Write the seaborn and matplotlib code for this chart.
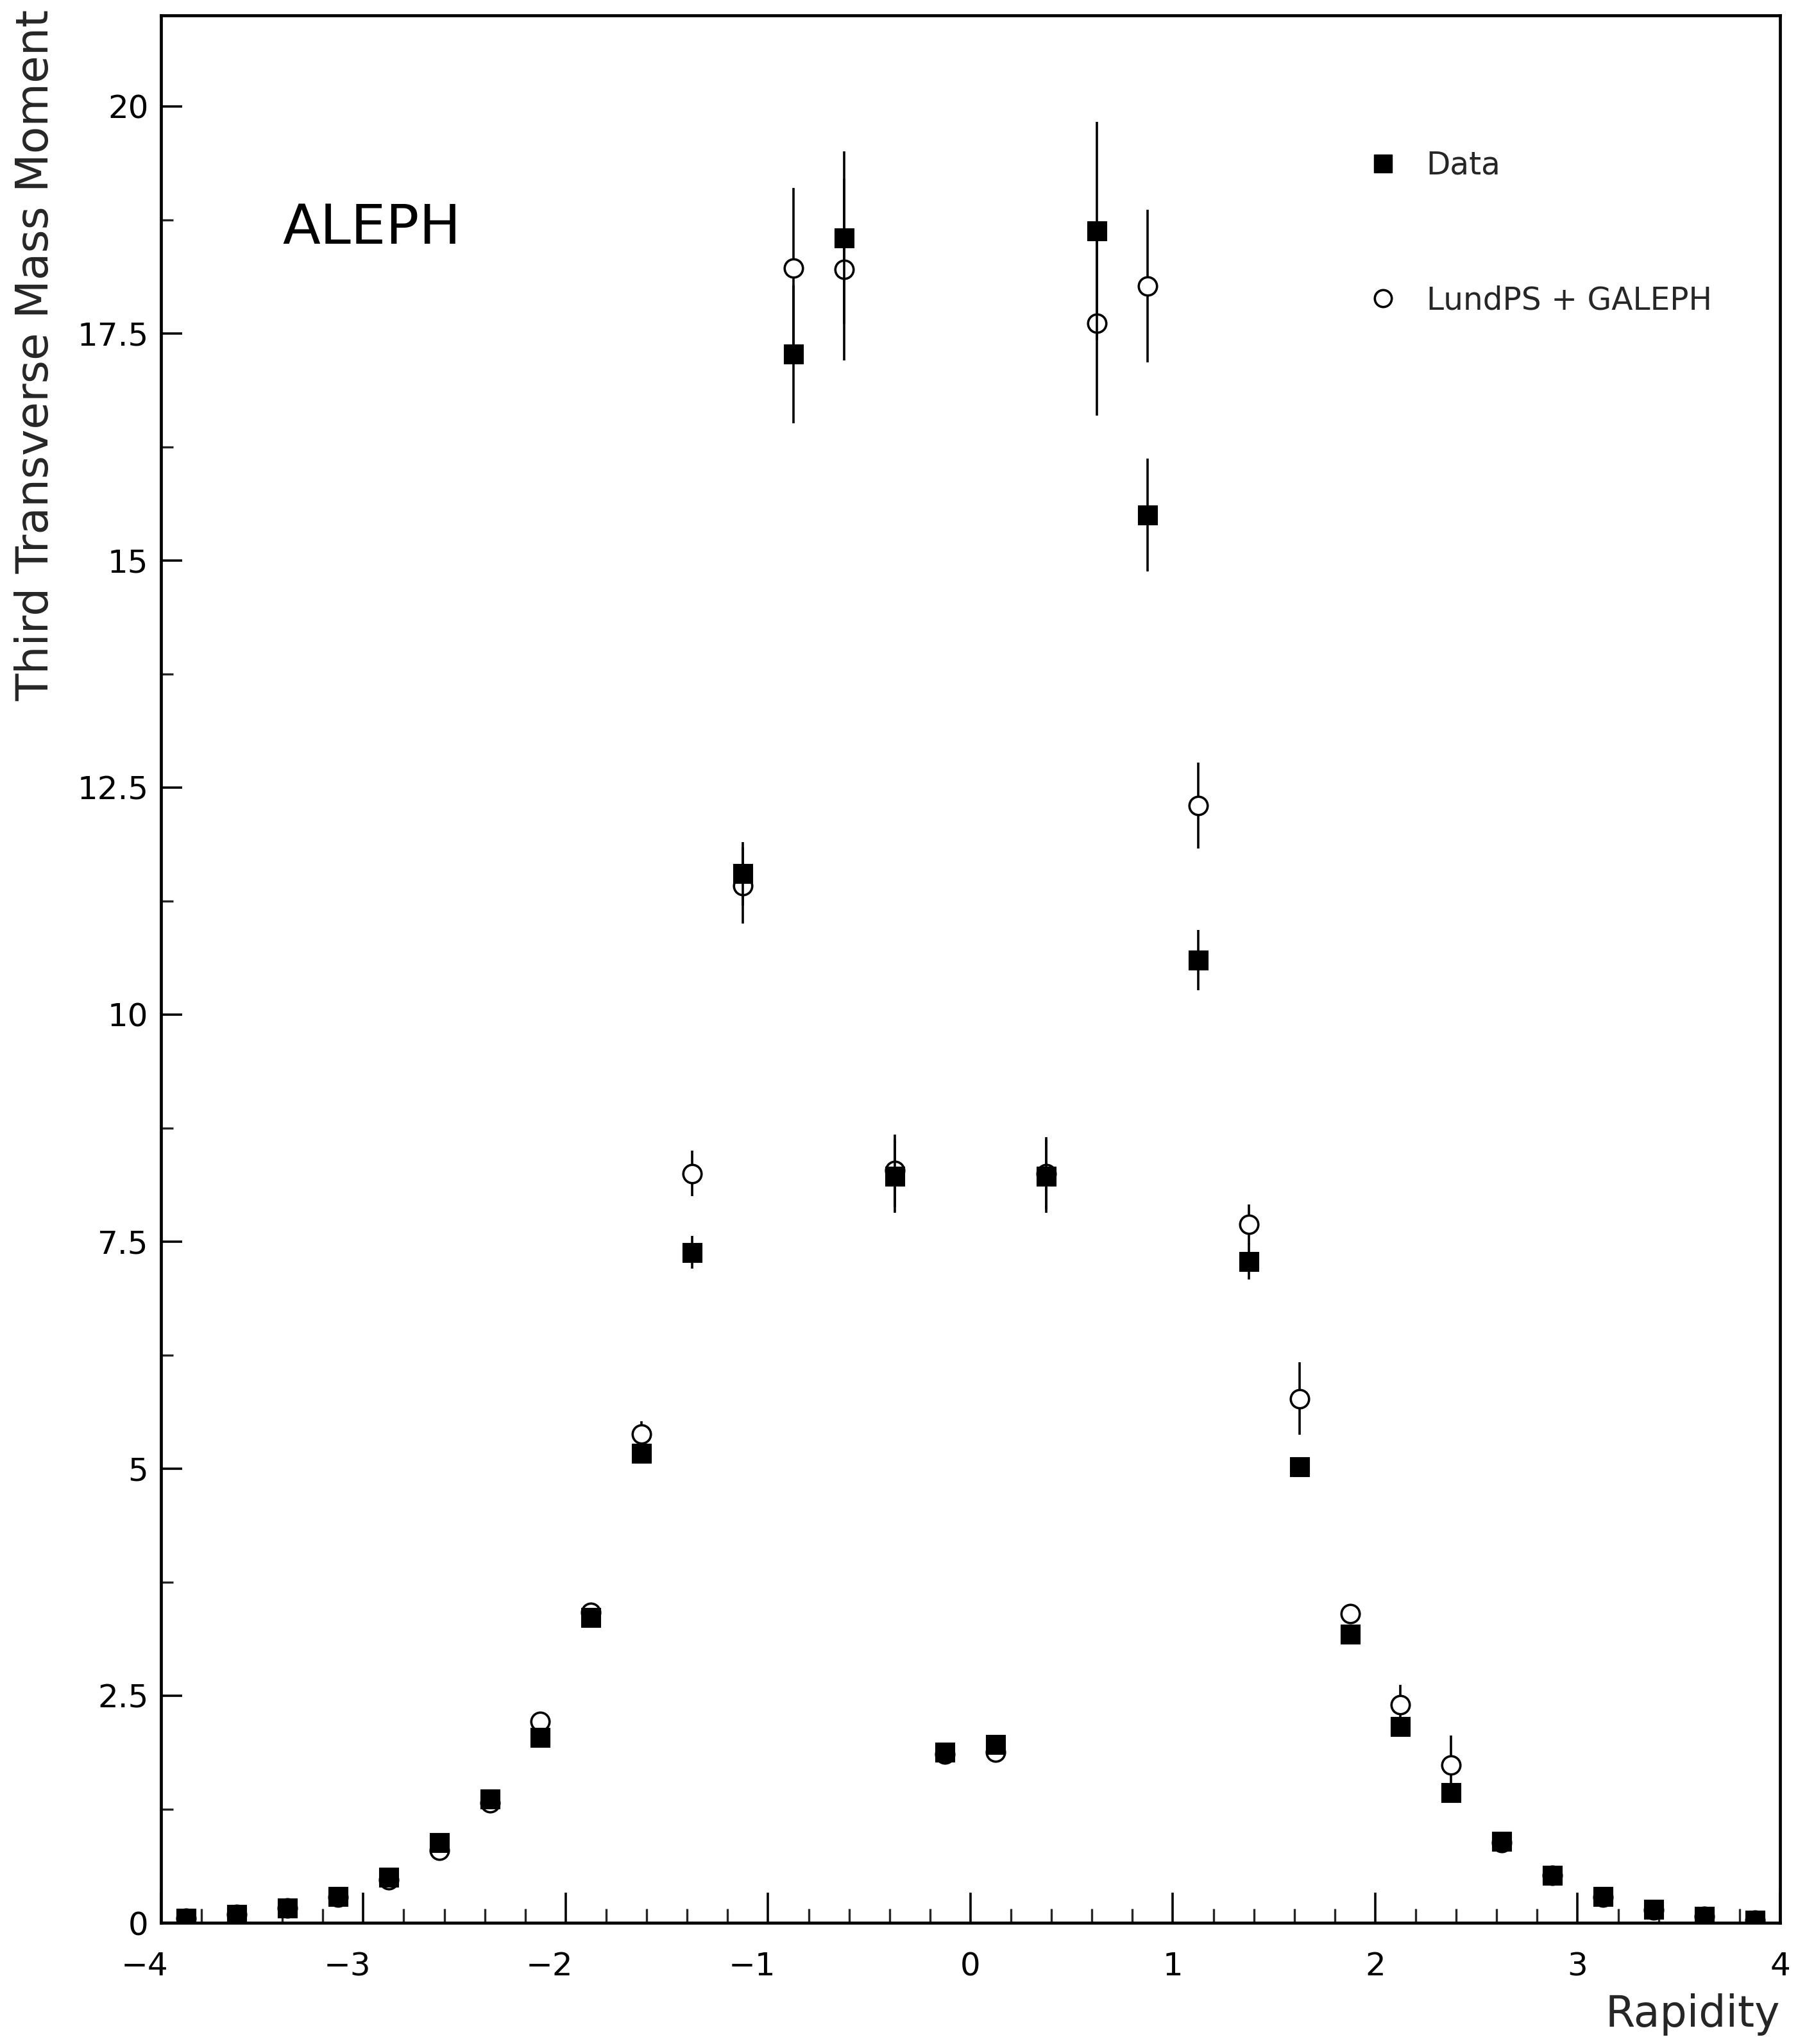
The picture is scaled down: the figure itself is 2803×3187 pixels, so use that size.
import numpy as np
import pandas as pd
import matplotlib
matplotlib.use("Agg")
import matplotlib.pyplot as plt
from matplotlib.ticker import MultipleLocator, FuncFormatter
from matplotlib.lines import Line2D
from matplotlib.transforms import ScaledTranslation
import seaborn as sns

# ---------------- data ----------------
rapidity = [-3.875, -3.625, -3.375, -3.125, -2.875, -2.625, -2.375, -2.125,
            -1.875, -1.625, -1.375, -1.125, -0.875, -0.625, -0.375, -0.125,
            0.125, 0.375, 0.625, 0.875, 1.125, 1.375, 1.625, 1.875,
            2.125, 2.375, 2.625, 2.875, 3.125, 3.375, 3.625, 3.875]

data_y = [0.05, 0.09, 0.16, 0.29, 0.50, 0.88, 1.36, 2.04,
          3.36, 5.17, 7.38, 11.55, 17.27, 18.55, 8.22, 1.88,
          1.96, 8.22, 18.63, 15.50, 10.60, 7.28, 5.02, 3.18,
          2.16, 1.43, 0.90, 0.52, 0.29, 0.15, 0.07, 0.03]
data_err = [0.02, 0.02, 0.02, 0.03, 0.03, 0.04, 0.04, 0.05,
            0.06, 0.10, 0.18, 0.35, 0.76, 0.95, 0.40, 0.05,
            0.05, 0.40, 1.20, 0.62, 0.33, 0.20, 0.10, 0.06,
            0.05, 0.05, 0.04, 0.03, 0.03, 0.02, 0.02, 0.02]

mc_y = [0.05, 0.09, 0.16, 0.28, 0.47, 0.80, 1.32, 2.22,
        3.42, 5.38, 8.25, 11.42, 18.22, 18.20, 8.28, 1.86,
        1.88, 8.25, 17.61, 18.02, 12.30, 7.69, 5.77, 3.40,
        2.40, 1.74, 0.88, 0.52, 0.28, 0.14, 0.07, 0.03]
mc_err = [0.02, 0.02, 0.02, 0.03, 0.03, 0.04, 0.05, 0.06,
          0.07, 0.14, 0.25, 0.42, 0.88, 1.00, 0.40, 0.06,
          0.06, 0.40, 1.02, 0.84, 0.47, 0.22, 0.40, 0.06,
          0.22, 0.32, 0.05, 0.04, 0.03, 0.02, 0.02, 0.02]

label_data = "Data"
label_mc = "LundPS + GALEPH"
xlabel = "Rapidity"
ylabel = "Third Transverse Mass Moment"
experiment = "ALEPH"
yticks = [0, 2.5, 5, 7.5, 10, 12.5, 15, 17.5, 20]
xticks = [-4, -3, -2, -1, 0, 1, 2, 3, 4]

df_data = pd.DataFrame({"x": rapidity, "y": data_y, "err": data_err})
df_mc = pd.DataFrame({"x": rapidity, "y": mc_y, "err": mc_err})

# ---------------- style ----------------
sns.set_style("ticks")
plt.rcParams["font.family"] = ["DejaVu Sans"]
plt.rcParams["axes.unicode_minus"] = True

fig = plt.figure(figsize=(28.03, 31.87), dpi=100)
ax = fig.add_axes([0.0895, 0.0593, 0.9005, 0.9332])
ax.set_facecolor("white")
fig.patch.set_facecolor("white")

# MC: error bars then open circles
ax.errorbar(df_mc["x"], df_mc["y"], yerr=df_mc["err"], fmt="none",
            ecolor="black", elinewidth=2.6, capsize=0, zorder=2)
sns.scatterplot(data=df_mc, x="x", y="y", ax=ax, marker="o", s=420,
                color="white", edgecolor="black", linewidth=2.6,
                zorder=3, legend=False)
# Data: error bars then filled squares
ax.errorbar(df_data["x"], df_data["y"], yerr=df_data["err"], fmt="none",
            ecolor="black", elinewidth=2.6, capsize=0, zorder=4)
sns.scatterplot(data=df_data, x="x", y="y", ax=ax, marker="s", s=470,
                color="black", edgecolor="black", linewidth=0.8,
                zorder=5, legend=False)

# ---------------- axes ----------------
ax.set_xlim(-4, 4)
ax.set_ylim(0, 21)
ax.set_xticks(xticks)
ax.xaxis.set_minor_locator(MultipleLocator(0.2))
ax.set_yticks(yticks)
ax.yaxis.set_minor_locator(MultipleLocator(1.25))
ax.yaxis.set_major_formatter(FuncFormatter(lambda v, p: f"{v:g}"))
ax.xaxis.set_major_formatter(FuncFormatter(lambda v, p: f"{v:g}".replace("-", "\u2212")))

ax.tick_params(axis="both", which="major", direction="in", width=2.6,
               labelsize=36, colors="black")
ax.tick_params(axis="both", which="minor", direction="in", width=2.4)
ax.tick_params(axis="x", which="major", length=34, pad=32)
ax.tick_params(axis="x", which="minor", length=16)
ax.tick_params(axis="y", which="major", length=24, pad=14)
ax.tick_params(axis="y", which="minor", length=14)
ax.tick_params(top=False, right=False, which="both")

# negative labels: digit sits on the tick, minus hangs to the left
for tk, val in zip(ax.xaxis.get_major_ticks(), xticks):
    if val < 0:
        tk.label1.set_transform(tk.label1.get_transform() +
                                ScaledTranslation(-0.25, 0, fig.dpi_scale_trans))

for sp in ax.spines.values():
    sp.set_visible(True)
    sp.set_linewidth(3.4)
    sp.set_color("black")

ax.set_xlabel(xlabel, fontsize=48, ha="right")
ax.xaxis.set_label_coords(1.0, -0.037)
ax.xaxis.label.set_verticalalignment("top")

ax.set_ylabel(ylabel, fontsize=50, loc="top")
ax.yaxis.set_label_coords(-0.064, 1.003)

ax.text(-3.40, 18.65, experiment, fontsize=62, ha="left", va="center",
        color="black")

handles = [
    Line2D([], [], linestyle="none", marker="s", markersize=20,
           markerfacecolor="black", markeredgecolor="black"),
    Line2D([], [], linestyle="none", marker="o", markersize=19,
           markerfacecolor="white", markeredgecolor="black",
           markeredgewidth=2.6),
]
leg = ax.legend(handles, [label_data, label_mc], loc="upper left",
                bbox_to_anchor=(0.745, 0.9295), frameon=False,
                fontsize=35, borderpad=0, borderaxespad=0,
                handlelength=1.0, handletextpad=0.9, labelspacing=3.35)

fig.savefig("out.png", dpi=100, facecolor="white")
